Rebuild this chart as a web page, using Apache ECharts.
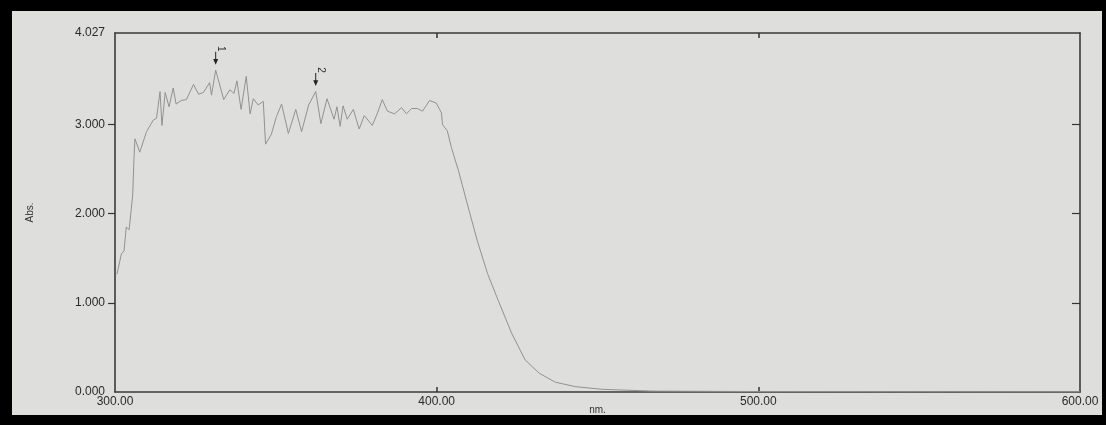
<!DOCTYPE html>
<html>
<head>
<meta charset="utf-8">
<script src="https://cdn.jsdelivr.net/npm/echarts@6/dist/echarts.min.js"></script>
<style>
    body { margin: 0; background: #000; }
    #spectrum { position: absolute; left: 12px; top: 11px; width: 1090px; height: 404px; background: #dedfdc; }
</style>
</head>
<body>
<div id="spectrum"></div>
<script type="text/javascript">
    // 波长 (nm) 和吸光度
    var wavelength = [300.6, 302.0, 302.8, 303.5, 304.4, 305.5, 305.9, 306.2, 307.7, 309.8,
        311.9, 312.9, 314.0, 314.6, 315.6, 316.8, 318.1, 319.0, 320.6, 322.2,
        324.4, 326.0, 327.5, 329.4, 330.0, 331.3, 333.8, 335.7, 337.0, 337.9,
        339.2, 340.8, 342.0, 343.0, 344.5, 346.1, 346.8, 348.6, 350.2, 351.8,
        353.9, 356.2, 358.0, 360.2, 362.4, 364.0, 365.9, 368.1, 369.0, 370.0,
        370.9, 372.2, 374.1, 375.9, 377.5, 380.0, 381.6, 383.1, 384.7, 386.9,
        389.1, 390.6, 392.2, 394.0, 395.6, 397.8, 399.9, 401.5, 401.8, 403.3,
        404.6, 406.8, 409.3, 412.6, 415.8, 419.1, 423.3, 427.5, 431.9, 436.9,
        443.1, 451.5, 467.0, 500.0, 550.0, 600.0];
    var absorbance = [1.32, 1.55, 1.58, 1.85, 1.82, 2.21, 2.62, 2.84, 2.69, 2.92,
        3.05, 3.07, 3.37, 2.99, 3.36, 3.20, 3.41, 3.23, 3.27, 3.28,
        3.45, 3.34, 3.36, 3.47, 3.33, 3.61, 3.28, 3.39, 3.35, 3.49,
        3.17, 3.54, 3.12, 3.29, 3.22, 3.26, 2.78, 2.89, 3.09, 3.23,
        2.90, 3.17, 2.92, 3.22, 3.37, 3.01, 3.29, 3.06, 3.20, 2.98,
        3.21, 3.06, 3.17, 2.95, 3.10, 2.99, 3.13, 3.28, 3.15, 3.12,
        3.19, 3.12, 3.18, 3.18, 3.15, 3.27, 3.24, 3.13, 3.00, 2.93,
        2.74, 2.48, 2.14, 1.70, 1.33, 1.03, 0.66, 0.36, 0.21, 0.11,
        0.06, 0.03, 0.01, 0.005, 0.004, 0.003];
    // 峰标记
    var peakNames = ['1', '2'];
    var peakNm = [331.3, 362.4];
    var peakAbs = [3.61, 3.37];
    var yLabelValues = [0, 1, 2, 3, 4.027];

    var points = [];
    for (var i = 0; i < wavelength.length; i++) {
        points.push([wavelength[i], absorbance[i]]);
    }
    var peaks = [];
    for (var j = 0; j < peakNames.length; j++) {
        peaks.push({ name: peakNames[j], coord: [peakNm[j], peakAbs[j]] });
    }

    var myChart = echarts.init(document.getElementById('spectrum'));
    var axisFont = { fontFamily: 'Liberation Sans', fontSize: 12, color: '#2a2a2a' };
    var frame = { show: true, onZero: false, lineStyle: { color: '#3a3a3a', width: 1.6 } };

    var option = {
        animation: false,
        grid: { left: 103, top: 22, width: 965, height: 359, outerBoundsMode: 'none', containLabel: false },
        xAxis: [{
            type: 'value', min: 300, max: 600, interval: 100,
            position: 'bottom',
            name: 'nm.', nameLocation: 'middle', nameGap: 13, nameMoveOverlap: false,
            nameTextStyle: { fontFamily: 'Liberation Sans', fontSize: 10, color: '#333' },
            axisLine: frame,
            axisTick: { show: true, inside: true, length: 5, customValues: [400, 500], lineStyle: { color: '#333', width: 1.5 } },
            axisLabel: Object.assign({ margin: 4, formatter: function (v) { return v.toFixed(2); } }, axisFont),
            splitLine: { show: false }
        }, {
            type: 'value', min: 300, max: 600, interval: 100,
            position: 'top',
            axisLine: frame,
            axisTick: { show: true, inside: true, length: 5, customValues: [400, 500], lineStyle: { color: '#333', width: 1.5 } },
            axisLabel: { show: false },
            splitLine: { show: false }
        }],
        yAxis: [{
            type: 'value', min: 0, max: 4.027, interval: 1,
            position: 'left',
            name: 'Abs.', nameLocation: 'middle', nameGap: 80, nameMoveOverlap: false,
            nameTextStyle: { fontFamily: 'Liberation Sans', fontSize: 10, color: '#333' },
            axisLine: frame,
            axisTick: { show: true, length: 7, customValues: [1, 2, 3], lineStyle: { color: '#333', width: 1.2 } },
            axisLabel: Object.assign({ margin: 10, customValues: yLabelValues, formatter: function (v) { return v.toFixed(3); } }, axisFont),
            splitLine: { show: false }
        }, {
            type: 'value', min: 0, max: 4.027, interval: 1,
            position: 'right',
            axisLine: frame,
            axisTick: { show: true, inside: true, length: 8, customValues: [1, 2, 3], lineStyle: { color: '#333', width: 1.2 } },
            axisLabel: { show: false },
            splitLine: { show: false }
        }],
        series: [{
            type: 'line',
            data: points,
            showSymbol: false,
            lineStyle: { color: '#919191', width: 1 },
            markPoint: {
                symbol: 'path://M4,0 L6,0 L6,10 L10,10 L5,18 L0,10 L4,10 Z',
                symbolSize: [5, 13],
                symbolOffset: [0, -12],
                itemStyle: { color: '#222' },
                label: {
                    show: true, position: 'top', distance: 3, rotate: -90,
                    formatter: '{b}', fontFamily: 'Liberation Sans', fontSize: 10, color: '#333'
                },
                data: peaks
            }
        }]
    };
    myChart.setOption(option);
</script>
</body>
</html>
